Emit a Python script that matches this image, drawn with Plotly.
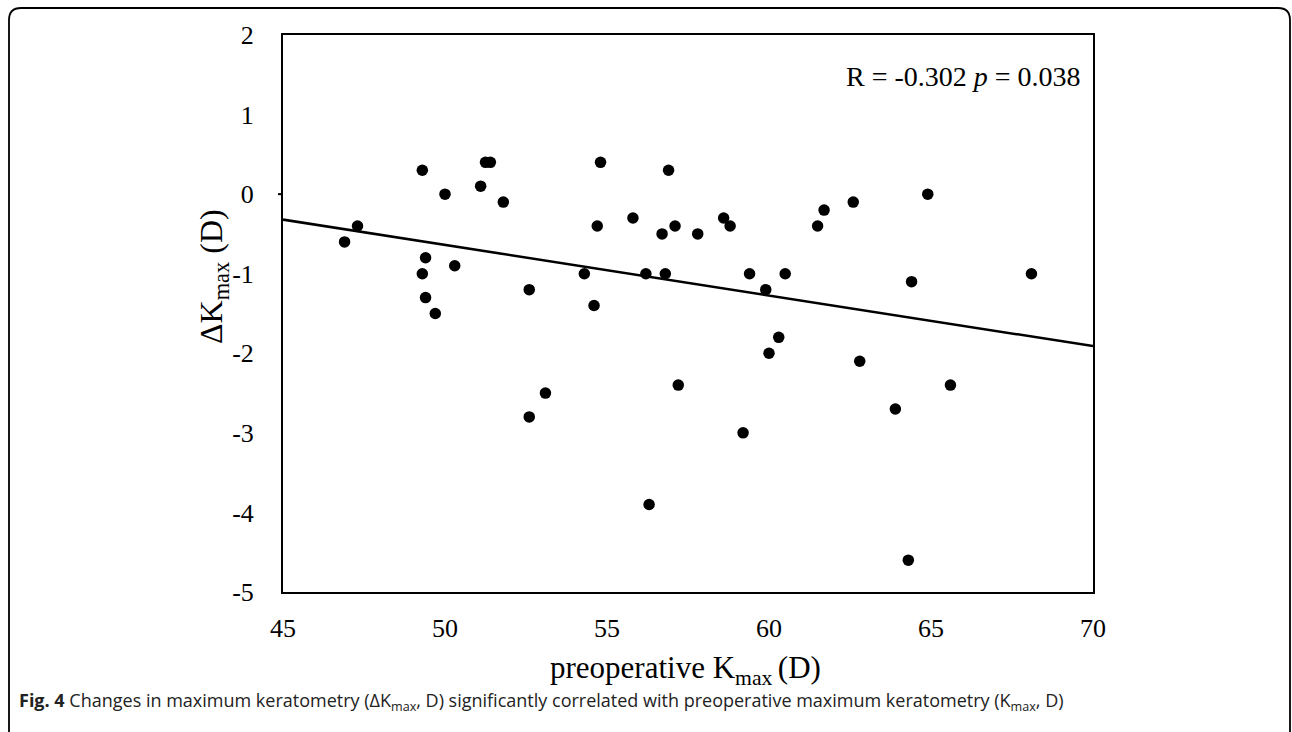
import plotly.graph_objects as go

# Data
k_pre = [46.9, 47.3, 49.3, 49.3, 49.4, 49.4, 49.7, 50.0, 50.3, 51.1, 51.25, 51.4,
         51.8, 52.6, 52.6, 53.1, 54.3, 54.6, 54.7, 54.8, 55.8, 56.2, 56.3, 56.7,
         56.8, 56.9, 57.1, 57.2, 57.8, 58.6, 58.8, 59.2, 59.4, 59.9, 60.0, 60.3,
         60.5, 61.5, 61.7, 62.6, 62.8, 63.9, 64.3, 64.4, 64.9, 65.6, 68.1]
delta_k = [-0.6, -0.4, 0.3, -1.0, -0.8, -1.3, -1.5, 0.0, -0.9, 0.1, 0.4, 0.4,
           -0.1, -1.2, -2.8, -2.5, -1.0, -1.4, -0.4, 0.4, -0.3, -1.0, -3.9, -0.5,
           -1.0, 0.3, -0.4, -2.4, -0.5, -0.3, -0.4, -3.0, -1.0, -1.2, -2.0, -1.8,
           -1.0, -0.4, -0.2, -0.1, -2.1, -2.7, -4.6, -1.1, 0.0, -2.4, -1.0]
fit_x = [45, 70]
fit_y = [-0.32, -1.91]
x_ticks = [45, 50, 55, 60, 65, 70]
x_tick_labels = ["45", "50", "55", "60", "65", "70"]
y_ticks = [2, 1, 0, -1, -2, -3, -4, -5]
y_tick_labels = ["2", "1", "0", "-1", "-2", "-3", "-4", "-5"]

W, H = 1292, 732
L, R, T, B = 283, 199, 35, 140
PW, PH = W - L - R, H - T - B


def px(x):
    return (x - L) / PW


def py(y):
    return (H - B - y) / PH


serif = "Liberation Serif"

fig = go.Figure()
fig.add_trace(go.Scatter(x=fit_x, y=fit_y, mode="lines",
                         line=dict(color="black", width=2.5),
                         hoverinfo="skip", showlegend=False))
fig.add_trace(go.Scatter(x=k_pre, y=delta_k, mode="markers",
                         marker=dict(color="black", size=11.5),
                         showlegend=False))

fig.update_xaxes(range=[45, 70], tickvals=x_ticks, ticktext=x_tick_labels,
                 showgrid=False, zeroline=False,
                 showline=True, mirror=True, linecolor="black", linewidth=2,
                 ticks="", ticklabelstandoff=12,
                 tickfont=dict(family=serif, size=26, color="black"))
fig.update_yaxes(range=[-5, 2], tickvals=y_ticks, ticktext=y_tick_labels,
                 showgrid=False, zeroline=False,
                 showline=True, mirror=True, linecolor="black", linewidth=2,
                 ticks="", ticklabelstandoff=22,
                 tickfont=dict(family=serif, size=26, color="black"))

# small tick at y = 0
fig.add_shape(type="line", xref="paper", yref="y", x0=px(278), x1=0, y0=0, y1=0,
              line=dict(color="black", width=2))

# rounded border (top and left edges)
r = 12
x0, y0, x1 = 9, 8, 1290
path = (f"M {px(x0)} {py(H + 5)} L {px(x0)} {py(y0 + r)} "
        f"Q {px(x0)} {py(y0)} {px(x0 + r)} {py(y0)} "
        f"L {px(x1 - r)} {py(y0)} Q {px(x1)} {py(y0)} {px(x1)} {py(y0 + r)} "
        f"L {px(x1)} {py(H + 5)}")
fig.add_shape(type="path", xref="paper", yref="paper", path=path,
              line=dict(color="black", width=1.8))

annotations = [
    dict(text="R = -0.302 <i>p</i> = 0.038", x=px(1083), y=py(76),
         xanchor="right", yanchor="middle",
         font=dict(family=serif, size=28, color="black")),
    dict(text="preoperative K<sub>max </sub>(D)", x=px(685), y=py(670),
         xanchor="center", yanchor="middle",
         font=dict(family=serif, size=31, color="black")),
    dict(text="ΔK<sub>max</sub> (D)", x=px(213), y=py(277), textangle=-90,
         xanchor="center", yanchor="middle",
         font=dict(family=serif, size=32, color="black")),
    dict(text="<b>Fig. 4</b> Changes in maximum keratometry (ΔK<sub>max</sub>, D) "
              "significantly correlated with preoperative maximum keratometry "
              "(K<sub>max</sub>, D)",
         x=px(17), y=py(701), xanchor="left", yanchor="middle",
         font=dict(family="Open Sans", size=18, color="#222")),
]
for a in annotations:
    a.update(xref="paper", yref="paper", showarrow=False)
    fig.add_annotation(**a)

fig.update_layout(width=W, height=H, margin=dict(l=L, r=R, t=T, b=B),
                  paper_bgcolor="white", plot_bgcolor="white")

fig.write_html("out.html")
